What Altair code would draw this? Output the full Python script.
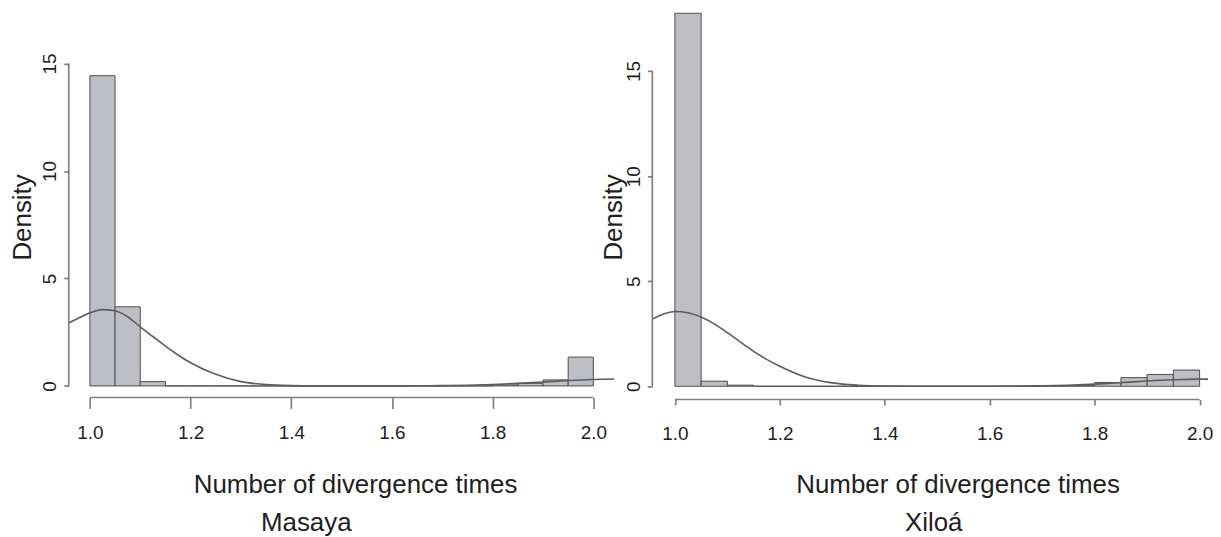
import altair as alt
import pandas as pd

# ---------------- data ----------------
bin_starts = [1.00, 1.05, 1.10, 1.15, 1.20, 1.25, 1.30, 1.35, 1.40, 1.45,
              1.50, 1.55, 1.60, 1.65, 1.70, 1.75, 1.80, 1.85, 1.90, 1.95]
bin_ends = [1.05, 1.10, 1.15, 1.20, 1.25, 1.30, 1.35, 1.40, 1.45, 1.50,
            1.55, 1.60, 1.65, 1.70, 1.75, 1.80, 1.85, 1.90, 1.95, 2.00]

masaya_density = [14.43, 3.68, 0.20, 0.0, 0.0, 0.0, 0.0, 0.0, 0.0, 0.0,
                  0.0, 0.0, 0.0, 0.0, 0.0, 0.0, 0.05, 0.12, 0.28, 1.34]
xiloa_density = [17.75, 0.24, 0.05, 0.0, 0.0, 0.0, 0.0, 0.0, 0.0, 0.0,
                 0.0, 0.0, 0.0, 0.0, 0.02, 0.04, 0.18, 0.41, 0.56, 0.77]

masaya_curve_x = [0.958, 0.98, 1.0, 1.025, 1.05, 1.075, 1.1, 1.125, 1.15, 1.175,
                  1.2, 1.25, 1.3, 1.35, 1.4, 1.45, 1.5, 1.55, 1.6, 1.65,
                  1.7, 1.75, 1.8, 1.85, 1.9, 1.95, 2.0, 2.042]
masaya_curve_y = [2.93, 3.18, 3.40, 3.55, 3.50, 3.22, 2.75, 2.30, 1.85, 1.44,
                  1.08, 0.54, 0.20, 0.06, 0.015, 0.003, 0.0, 0.0, 0.002, 0.006,
                  0.015, 0.035, 0.07, 0.12, 0.18, 0.25, 0.30, 0.32]

xiloa_curve_x = [0.957, 0.98, 1.0, 1.025, 1.05, 1.075, 1.1, 1.125, 1.15, 1.175,
                 1.2, 1.25, 1.3, 1.35, 1.4, 1.45, 1.5, 1.55, 1.6, 1.65,
                 1.7, 1.75, 1.8, 1.85, 1.9, 1.95, 2.0, 2.016]
xiloa_curve_y = [3.20, 3.45, 3.56, 3.50, 3.30, 2.97, 2.55, 2.10, 1.66, 1.28,
                 0.95, 0.43, 0.16, 0.05, 0.012, 0.002, 0.0, 0.0, 0.003, 0.008,
                 0.02, 0.05, 0.10, 0.17, 0.25, 0.31, 0.34, 0.34]

x_ticks = [1.0, 1.2, 1.4, 1.6, 1.8, 2.0]
y_ticks = [0, 5, 10, 15]
x_axis_span = [1.0, 2.0]
y_axis_span = [0, 15]
panel_names = ["Masaya", "Xiloá"]
x_title = "Number of divergence times"
y_title = "Density"

# ---------------- styling ----------------
FONT = "Liberation Sans, Arial, Helvetica, sans-serif"
TXT = "#1e1e1e"
AX = "#808080"
BAR_FILL = "#bebfc4"
BAR_STROKE = "#4d4d4d"
CURVE = "#5c5c5c"


def panel(name, dens, cx, cy, xdom, ydom, W, H, xtick, xlabpad,
          ytitle_x, xtitle_x, xtitle_y, name_x, name_y):
    bars = pd.DataFrame({"x0": bin_starts, "x1": bin_ends, "d": dens})
    curve = pd.DataFrame({"x0": cx, "d": cy})
    yline = pd.DataFrame({"d": [y_axis_span[0]], "d1": [y_axis_span[1]]})
    xline = pd.DataFrame({"x0": [x_axis_span[0]], "x1": [x_axis_span[1]]})
    label = pd.DataFrame({"name": [name]})

    xs = alt.Scale(domain=xdom, nice=False, zero=False)
    ys = alt.Scale(domain=ydom, nice=False, zero=False)

    xaxis = alt.Axis(
        values=x_ticks, format=".1f", domain=False, grid=False,
        tickSize=xtick, tickColor=AX, tickWidth=1.7,
        labelFont=FONT, labelFontSize=19, labelColor=TXT,
        labelPadding=xlabpad, labelBaseline="top", labelFlush=False,
        titleFont=FONT, titleFontSize=26,
        titleFontWeight="normal", titleColor=TXT,
        titleX=xtitle_x, titleY=xtitle_y, titleAlign="center",
        titleBaseline="alphabetic", titleAngle=0,
    )
    yaxis = alt.Axis(
        values=y_ticks, format="d", domain=False, grid=False,
        tickSize=5, tickColor=AX, tickWidth=1.7,
        labelFont=FONT, labelFontSize=19, labelColor=TXT,
        labelAngle=270, labelAlign="center", labelBaseline="alphabetic",
        labelPadding=8, labelFlush=False,
        titleFont=FONT, titleFontSize=26,
        titleFontWeight="normal", titleColor=TXT,
        titleX=ytitle_x, titleY=208.7, titleAngle=270, titleAlign="center",
        titleBaseline="alphabetic",
    )

    X = lambda f: alt.X(f, scale=xs, axis=xaxis, title=x_title)
    Y = lambda f: alt.Y(f, scale=ys, axis=yaxis, title=y_title)

    hist = alt.Chart(bars).mark_rect(
        fill=BAR_FILL, stroke=BAR_STROKE, strokeWidth=1
    ).encode(
        x=X("x0:Q"),
        x2="x1:Q",
        y=Y("d:Q"),
        y2=alt.datum(0),
    )
    dens_line = alt.Chart(curve).mark_line(
        color=CURVE, strokeWidth=1.6, interpolate="monotone", clip=True
    ).encode(
        x=X("x0:Q"),
        y=Y("d:Q"),
    )
    y_rule = alt.Chart(yline).mark_rule(color=AX, strokeWidth=1.7).encode(
        x=alt.value(0),
        y=Y("d:Q"),
        y2="d1:Q",
    )
    x_rule = alt.Chart(xline).mark_rule(color=AX, strokeWidth=1.7).encode(
        x=X("x0:Q"),
        x2="x1:Q",
        y=alt.value(H),
    )
    name_txt = alt.Chart(label).mark_text(
        font=FONT, fontSize=26, color=TXT, align="center", baseline="alphabetic"
    ).encode(
        text="name:N",
        x=alt.value(name_x),
        y=alt.value(name_y),
    )
    return alt.layer(hist, dens_line, y_rule, x_rule, name_txt).properties(
        width=W, height=H
    )


left = panel(panel_names[0], masaya_density, masaya_curve_x, masaya_curve_y,
             xdom=[0.958, 2.042], ydom=[-0.537, 17.53], W=548, H=390,
             xtick=11, xlabpad=15.5, ytitle_x=-38,
             xtitle_x=287.5, xtitle_y=95.3, name_x=238.5, name_y=523.7)

right = panel(panel_names[1], xiloa_density, xiloa_curve_x, xiloa_curve_y,
              xdom=[0.957, 2.016], ydom=[-0.63, 17.95], W=558, H=392,
              xtick=5.5, xlabpad=19.5, ytitle_x=-31,
              xtitle_x=306.5, xtitle_y=93.3, name_x=282.5, name_y=523.7)

chart = alt.hconcat(left, right, spacing=38, bounds="flush").resolve_scale(
    x="independent", y="independent"
).properties(
    padding={"left": 2, "top": 0, "right": 0, "bottom": 0}, background="white"
).configure_view(
    stroke=None
)

chart.save("out.html", embed_options={"renderer": "svg", "actions": False})
